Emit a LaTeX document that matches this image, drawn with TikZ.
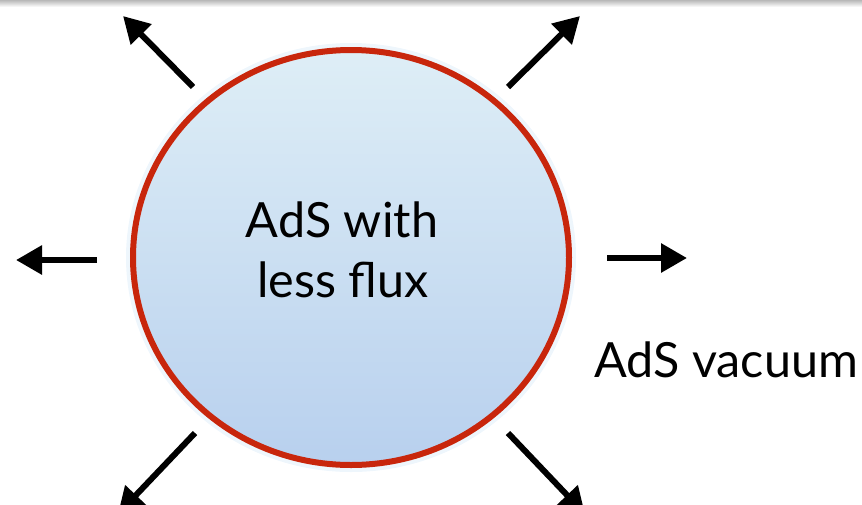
\documentclass[tikz,border=0pt]{standalone}
\usepackage{fontspec}
\setmainfont{Lato}
\usetikzlibrary{arrows.meta,shapes.geometric}

\definecolor{rimred}{RGB}{200,38,12}
\definecolor{filltop}{RGB}{222,238,246}
\definecolor{fillbot}{RGB}{184,208,238}
\definecolor{glow}{RGB}{205,228,246}

\tikzset{
  flow/.style={line width=6pt, -{Triangle[length=26pt,width=28pt]}},
  lbl/.style={font=\fontsize{48.5}{58}\selectfont, inner sep=0pt},
  bubble/.style={ellipse, draw=rimred, line width=6pt,
    top color=filltop, bottom color=fillbot,
    minimum width=436pt, minimum height=415pt, inner sep=0pt}
}

\begin{document}
\begin{tikzpicture}[x=1pt,y=-1pt]
  \useasboundingbox (0,0) rectangle (862,504);
  % faint band along the top edge
  \shade[top color=black!28, bottom color=white] (0,0) rectangle (862,7);

  % soft halo round the bubble
  \draw[glow, line width=12pt, opacity=0.35] (351,257.5) ellipse [x radius=219, y radius=208.5];
  \node[bubble] (core) at (351,257.5) {};

  \node[lbl, anchor=base] (l1) at (342,237) {AdS with};
  \node[lbl, anchor=base] (l2) at (343,297) {less flux};
  \node[lbl, anchor=base west] (vac) at (594,377) {AdS vacuum};

  % arrow ends
  \coordinate (tlA) at (193,87);  \coordinate (tlB) at (123,16);
  \coordinate (trA) at (508,87);  \coordinate (trB) at (580,16);
  \coordinate (lA)  at (97,260);  \coordinate (lB)  at (16,260);
  \coordinate (rA)  at (607,258); \coordinate (rB)  at (687,258);
  \coordinate (blA) at (195,433); \coordinate (blB) at (118,514);
  \coordinate (brA) at (508,433); \coordinate (brB) at (585,514);

  \draw[flow] (tlA) -- (tlB);
  \draw[flow] (trA) -- (trB);
  \draw[flow] (lA) -- (lB);
  \draw[flow] (rA) -- (rB);
  \draw[flow] (blA) -- (blB);
  \draw[flow] (brA) -- (brB);
\end{tikzpicture}
\end{document}
